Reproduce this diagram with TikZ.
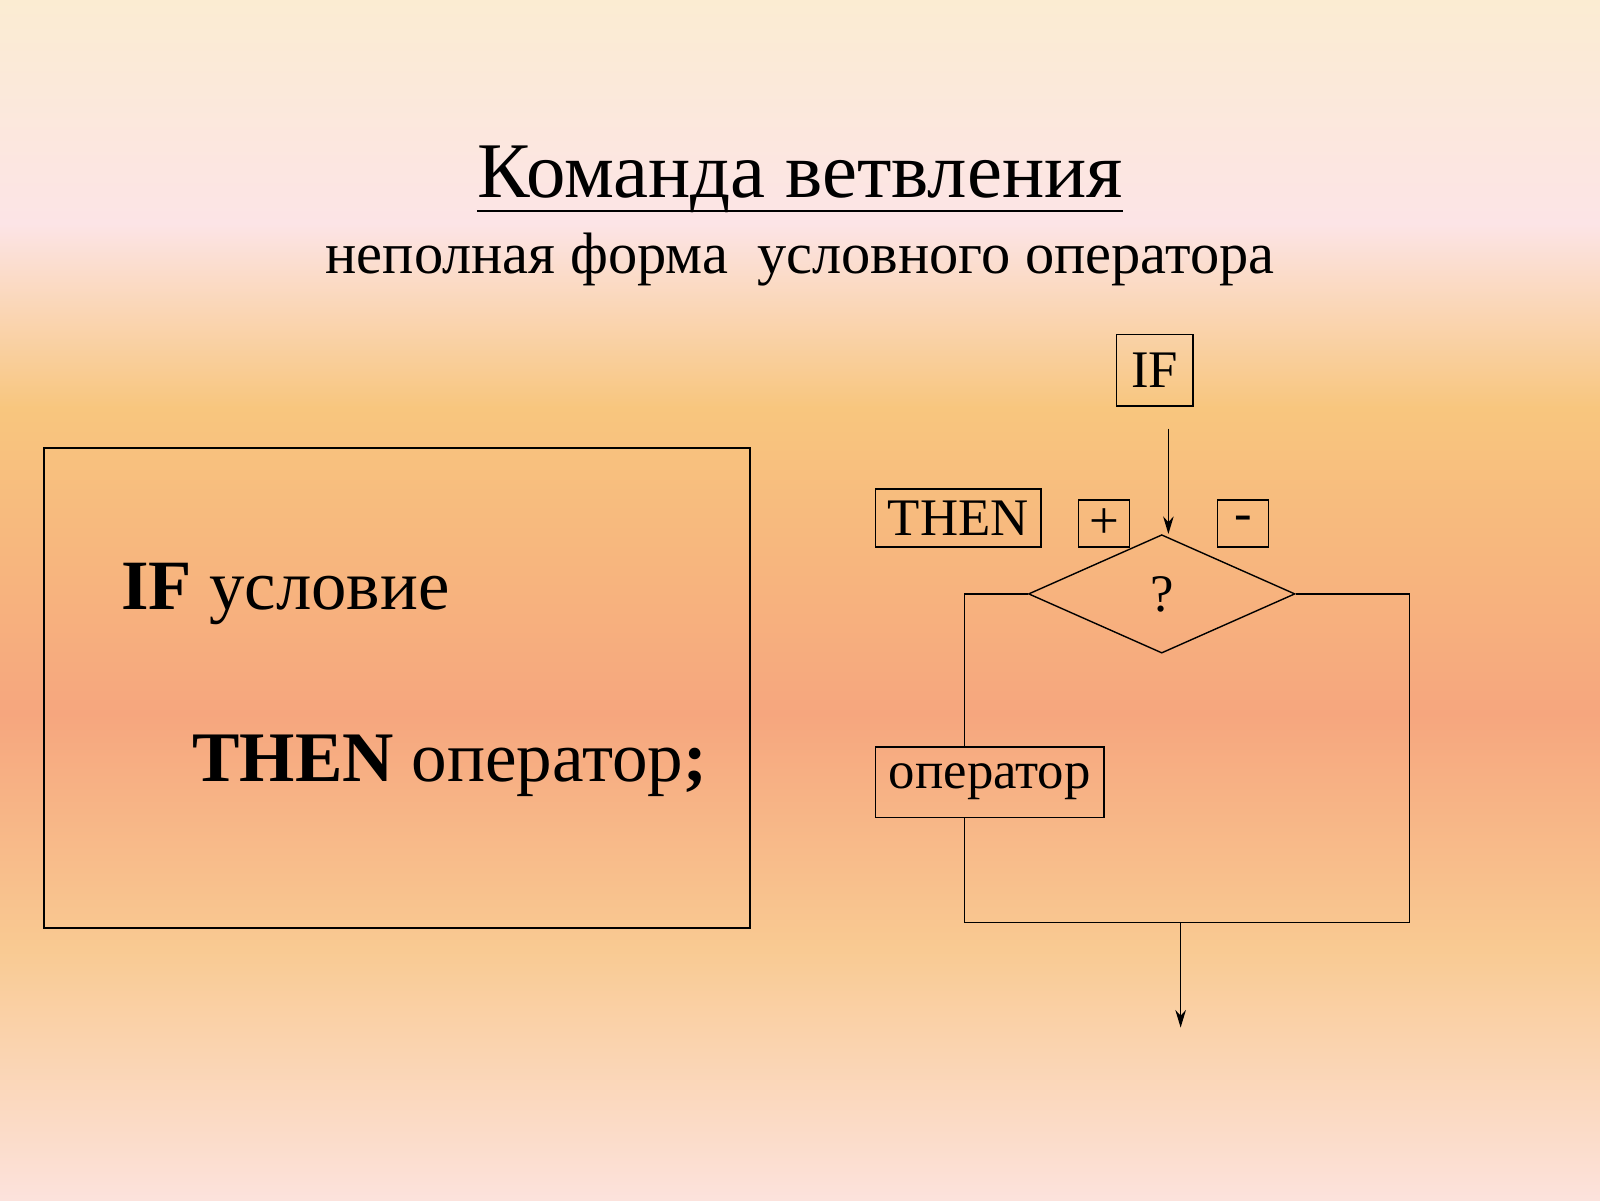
\documentclass[tikz,border=0pt]{standalone}
\usepackage{fontspec}
\setmainfont{Liberation Serif}
\usetikzlibrary{shapes.geometric,arrows.meta}
\definecolor{bgA}{HTML}{FBECD2}
\definecolor{bgB}{HTML}{FCE4E6}
\definecolor{bgC}{HTML}{F8C67E}
\definecolor{bgD}{HTML}{F6A67E}
\definecolor{bgE}{HTML}{F9CA92}
\definecolor{bgF}{HTML}{FCE2DC}
\tikzset{
  lbl/.style={draw,thin,inner sep=0pt,font=\fontsize{15}{15}\selectfont},
  wire/.style={thin},
  arr/.style={thin,-{Stealth[length=5pt,width=3pt]}}
}
\begin{document}
\begin{tikzpicture}[x=0.0102cm,y=-0.0102cm]
\useasboundingbox (0,0) rectangle (1568,1176);
% background
\shade[top color=bgA,bottom color=bgB] (0,0) rectangle (1568,220);
\shade[top color=bgB,bottom color=bgC] (0,219) rectangle (1568,400);
\shade[top color=bgC,bottom color=bgD] (0,399) rectangle (1568,700);
\shade[top color=bgD,bottom color=bgE] (0,699) rectangle (1568,930);
\shade[top color=bgE,bottom color=bgF] (0,929) rectangle (1568,1176);
% titles
\node[inner sep=0pt,anchor=base] (title) at (784,194) {\fontsize{22.4}{23}\selectfont Команда ветвления};
\draw[semithick] (title.west |- 0,207) -- (title.east |- 0,207);
\node[anchor=base] (sub) at (784,268) {\fontsize{16.6}{17}\selectfont неполная форма\ \ условного оператора};
% code box
\draw[semithick] (43,439) rectangle (735,909);
\node[anchor=base west,inner sep=0pt] (cond) at (118,597) {\fontsize{20.1}{20}\selectfont\textbf{IF} условие};
\node[anchor=base west,inner sep=0pt] (stmt) at (188,766) {\fontsize{20.2}{20}\selectfont\textbf{THEN} оператор\textbf{;}};
% flowchart
\node[lbl,minimum width=0.765cm,minimum height=0.714cm] (if) at (1131.5,363) {IF};
\node[lbl,minimum width=1.652cm,minimum height=0.581cm] (then) at (939,507.5) {THEN};
\node[lbl,minimum width=0.51cm,minimum height=0.469cm] (plus) at (1082,513) {+};
\node[lbl,minimum width=0.51cm,minimum height=0.469cm] (minus) at (1218,513) {-};
\node[draw,thin,diamond,aspect=2.25,minimum width=2.662cm,minimum height=1.183cm,inner sep=0pt,
  font=\fontsize{15}{15}\selectfont] (test) at (1138.5,582) {?};
\node[lbl,minimum width=2.285cm,minimum height=0.704cm] (op) at (970,766.5) {оператор};
\coordinate (top) at (1145,420);
\coordinate (join) at (1157,904);
\coordinate (out) at (1157,1007);
\draw[arr] (top) -- (top |- test.north);
\draw[wire] (test.west) -- (945,582) -- (op.north -| 945,0);
\draw[wire] (op.south -| 945,0) -- (945,904) -- (1381,904) -- (1381,582) -- (test.east);
\draw[arr] (join) -- (out);
\end{tikzpicture}
\end{document}
